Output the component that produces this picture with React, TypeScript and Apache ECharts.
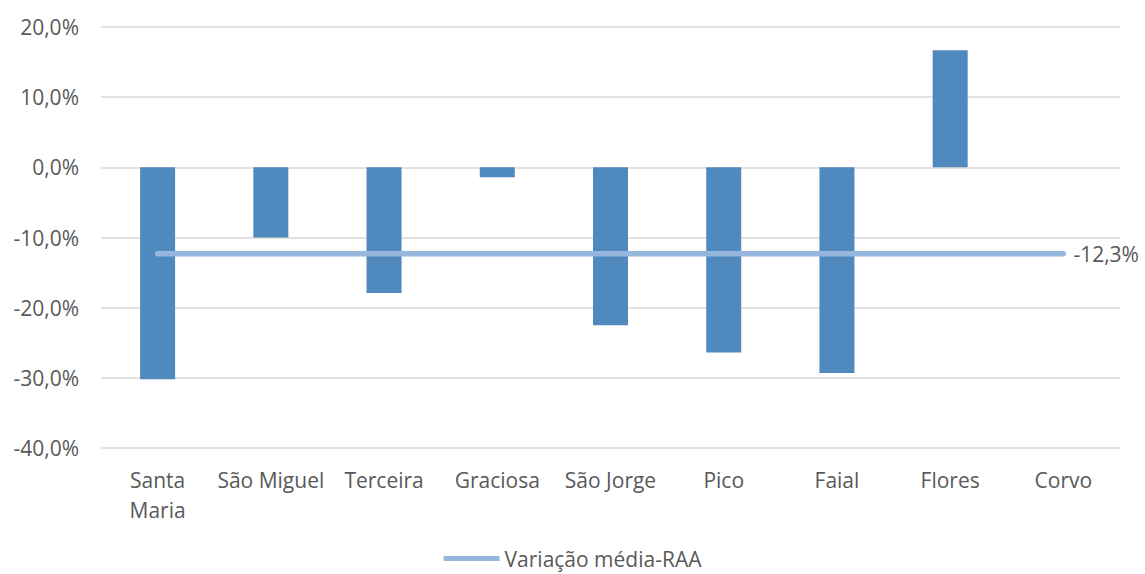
import React, { useEffect, useRef } from "react";
import * as echarts from "echarts";

const categories = ["Santa\nMaria", "São Miguel", "Terceira", "Graciosa", "São Jorge", "Pico", "Faial", "Flores", "Corvo"];
const variationValues = [-30.2, -10.0, -17.9, -1.4, -22.5, -26.4, -29.3, 16.7, 0];
const averageValue = -12.3;
const averageValues = categories.map(() => averageValue);
const averageName = "Variação média-RAA";

const fmt = (v: number) => v.toFixed(1).replace(".", ",") + "%";

export default function App() {
  const ref = useRef<HTMLDivElement>(null);
  useEffect(() => {
    if (!ref.current) return;
    const chart = echarts.init(ref.current, undefined, { renderer: "svg" });
    const font = "'Open Sans', sans-serif";
    const fs = 21;
    chart.setOption({
      animation: false,
      textStyle: { fontFamily: font },
      grid: { left: 101, right: 25, top: 27, bottom: 126 },
      legend: {
        bottom: 0,
        left: "center",
        data: [{ name: averageName, icon: "path://M0,0 L56,0 L56,5 L0,5 Z" }],
        itemWidth: 56,
        itemHeight: 5,
        itemGap: 2,
        textStyle: { color: "#595959", fontSize: fs, fontFamily: font },
        selectedMode: false,
      },
      xAxis: {
        type: "category",
        data: categories,
        axisLine: { show: false },
        axisTick: { show: false },
        axisLabel: { color: "#595959", fontSize: fs, margin: 17, lineHeight: 30, fontFamily: font, interval: 0 },
      },
      yAxis: {
        type: "value",
        min: -40,
        max: 20,
        interval: 10,
        axisLine: { show: false },
        axisTick: { show: false },
        axisLabel: { color: "#595959", fontSize: fs, margin: 22, fontFamily: font, formatter: (v: number) => fmt(v) },
        splitLine: { lineStyle: { color: "#D9D9D9", width: 1.5 } },
      },
      series: [
        {
          type: "bar",
          name: "Variação",
          data: variationValues,
          barWidth: 35,
          itemStyle: { color: "#4F89BD" },
        },
        {
          type: "line",
          name: averageName,
          data: averageValues,
          symbol: "none",
          itemStyle: { color: "#95B7DE" },
          lineStyle: { color: "#95B7DE", width: 5.5, cap: "round" },
          endLabel: {
            show: true,
            formatter: () => fmt(averageValue),
            color: "#595959",
            fontSize: fs,
            fontFamily: font,
            distance: 10,
          },
        },
      ],
    });
    return () => chart.dispose();
  }, []);
  return <div ref={ref} style={{ position: "absolute", left: 0, top: 0, width: 1145, height: 574 }} />;
}
